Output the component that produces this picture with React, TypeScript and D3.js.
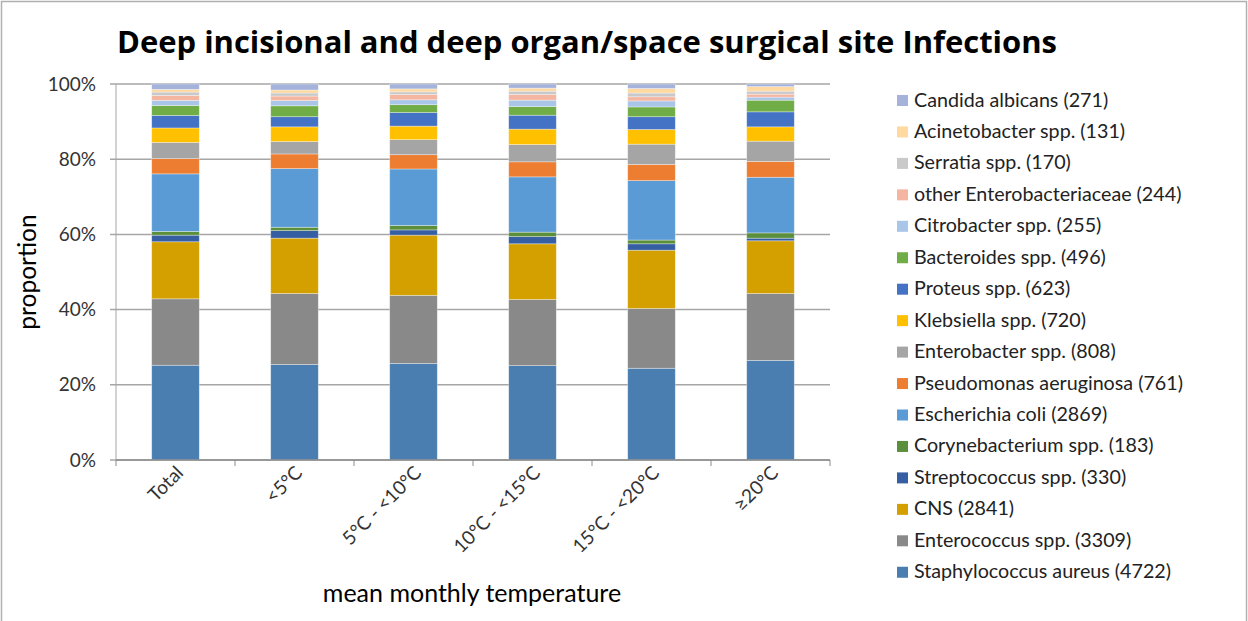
import React from "react";
import * as d3 from "d3";

const categories = ["Total", "<5°C", "5°C - <10°C", "10°C - <15°C", "15°C - <20°C", "≥20°C"];

const seriesNames = [
  "Staphylococcus aureus (4722)",
  "Enterococcus spp. (3309)",
  "CNS (2841)",
  "Streptococcus spp. (330)",
  "Corynebacterium spp. (183)",
  "Escherichia coli (2869)",
  "Pseudomonas aeruginosa (761)",
  "Enterobacter spp. (808)",
  "Klebsiella spp. (720)",
  "Proteus spp. (623)",
  "Bacteroides spp. (496)",
  "Citrobacter spp. (255)",
  "other Enterobacteriaceae (244)",
  "Serratia spp. (170)",
  "Acinetobacter spp. (131)",
  "Candida albicans (271)",
];

// percentage per category (order = categories)
const staphylococcus = [25.21, 25.4, 25.7, 25.1, 24.4, 26.5];
const enterococcus = [17.66, 18.9, 18.1, 17.6, 15.9, 17.8];
const cns = [15.17, 14.7, 16.0, 14.8, 15.5, 14.0];
const streptococcus = [1.76, 2.0, 1.4, 1.9, 1.7, 0.7];
const corynebacterium = [0.98, 0.9, 1.2, 1.2, 1.0, 1.4];
const ecoli = [15.32, 15.6, 15.0, 14.7, 15.8, 14.8];
const pseudomonas = [4.06, 3.9, 3.8, 4.0, 4.3, 4.2];
const enterobacter = [4.31, 3.3, 4.0, 4.6, 5.4, 5.4];
const klebsiella = [3.84, 3.9, 3.6, 4.1, 3.9, 3.8];
const proteus = [3.33, 2.7, 3.6, 3.7, 3.4, 4.0];
const bacteroides = [2.65, 2.9, 2.1, 2.3, 2.6, 3.1];
const citrobacter = [1.36, 1.4, 1.3, 1.7, 1.6, 0.8];
const otherEnterobacteriaceae = [1.3, 1.2, 1.4, 1.5, 1.1, 0.8];
const serratia = [0.91, 0.8, 0.7, 0.9, 1.0, 0.8];
const acinetobacter = [0.7, 0.8, 0.8, 0.8, 1.2, 1.2];
const candida = [1.45, 1.6, 1.3, 1.1, 1.2, 0.7];

const seriesValues = [
  staphylococcus, enterococcus, cns, streptococcus, corynebacterium, ecoli,
  pseudomonas, enterobacter, klebsiella, proteus, bacteroides, citrobacter,
  otherEnterobacteriaceae, serratia, acinetobacter, candida,
];

const colors = [
  "#4A7EB0", "#898989", "#D4A000", "#365FA3", "#5B8F3C", "#5B9BD5",
  "#ED7D31", "#A5A5A5", "#FFC000", "#4472C4", "#70AD47", "#A9C5E8",
  "#F4B6A0", "#C9C9C9", "#FFD9A0", "#A5B3DA",
];

const yTicks = [0, 0.2, 0.4, 0.6, 0.8, 1.0];

const FONT = "'Open Sans', 'Noto Sans', sans-serif";
const BODY = "Lato, 'Open Sans', sans-serif";

export default function App() {
  const width = 1248;
  const height = 621;
  const left = 116;
  const right = 830;
  const top = 84;
  const bottom = 460;

  const x = d3.scaleBand<string>().domain(categories).range([left, right]).paddingInner(0.6).paddingOuter(0.3);
  const xOuter = d3.scaleBand<string>().domain(categories).range([left, right]);
  const y = d3.scaleLinear().domain([0, 1]).range([bottom, top]);

  const table = categories.map((c, i) => {
    const row: any = { cat: c };
    seriesNames.forEach((s, j) => (row[s] = seriesValues[j][i] / 100));
    return row;
  });
  const stacked = d3.stack<any>().keys(seriesNames)(table);
  const fmt = d3.format(".0%");

  const legendX = 897;
  const legendY0 = 100;
  const legendStep = 31.45;
  const legendOrder = [...seriesNames.keys()].reverse();

  return (
    <svg width={width} height={height} style={{ position: "absolute", left: 0, top: 0, background: "#fff" }}>
      <rect x={1.5} y={1.5} width={width - 3} height={height + 10} fill="#fff" stroke="#B0B0B0" strokeWidth={1.5} />
      <text x={587} y={53} textAnchor="middle" fontFamily={FONT} fontWeight="bold" fontSize={31}
        textLength={940} lengthAdjust="spacingAndGlyphs" fill="#000">
        Deep incisional and deep organ/space surgical site Infections
      </text>
      {/* gridlines */}
      {yTicks.map((t) => (
        <g key={t}>
          <line x1={left - 6} x2={right} y1={y(t)} y2={y(t)} stroke="#A6A6A6" strokeWidth={1.5} />
          <text x={96} y={y(t) + 6.5} textAnchor="end" fontFamily={BODY} fontSize={19} fill="#333">{fmt(t)}</text>
        </g>
      ))}
      <line x1={left} x2={left} y1={top} y2={bottom} stroke="#A6A6A6" strokeWidth={1} />
      {/* bars */}
      {stacked.map((layer, j) => (
        <g key={j} fill={colors[j]}>
          {layer.map((d, i) => (
            <rect key={i} x={x(categories[i])} width={x.bandwidth()} y={y(d[1])} height={y(d[0]) - y(d[1])}
              stroke="#ffffff" strokeOpacity={0.45} strokeWidth={0.75} />
          ))}
        </g>
      ))}
      {/* x axis */}
      <line x1={left} x2={right} y1={bottom} y2={bottom} stroke="#8C8C8C" strokeWidth={1.5} />
      {categories.map((c, i) => (
        <line key={"t" + i} x1={xOuter(c)} x2={xOuter(c)} y1={bottom} y2={bottom + 6} stroke="#8C8C8C" strokeWidth={1} />
      ))}
      <line x1={right} x2={right} y1={bottom} y2={bottom + 6} stroke="#8C8C8C" strokeWidth={1} />
      {categories.map((c) => {
        const cx = (x(c) as number) + x.bandwidth() / 2 + 9;
        const cy = 474;
        return (
          <text key={c} x={cx} y={cy} transform={`rotate(-45 ${cx} ${cy})`} textAnchor="end"
            fontFamily={BODY} fontSize={19} fill="#333">{c}</text>
        );
      })}
      <text x={472} y={602} textAnchor="middle" fontFamily={BODY} fontSize={25} fill="#000">mean monthly temperature</text>
      <text transform="translate(36 272) rotate(-90)" textAnchor="middle" fontFamily={BODY} fontSize={24.5} fill="#000">proportion</text>
      {/* legend */}
      {legendOrder.map((j, k) => (
        <g key={j} transform={`translate(${legendX} ${legendY0 + k * legendStep})`}>
          <rect x={0} y={-5} width={11} height={11} fill={colors[j]} />
          <text x={17} y={6.5} fontFamily={BODY} fontSize={19.7} fill="#222">{seriesNames[j]}</text>
        </g>
      ))}
    </svg>
  );
}
